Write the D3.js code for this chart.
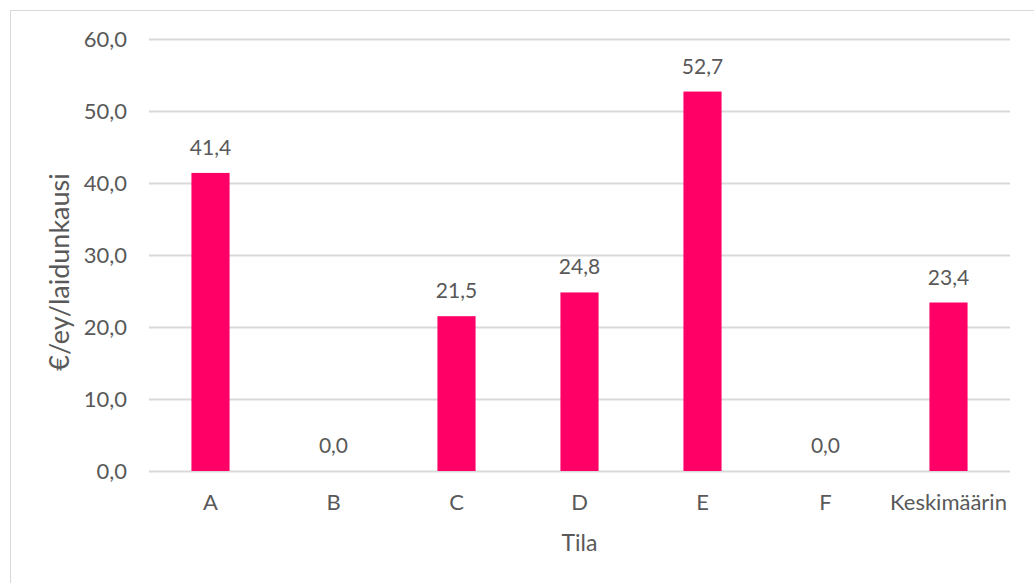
<!DOCTYPE html>
<html>
<head>
<meta charset="utf-8">
<script src="https://cdn.jsdelivr.net/npm/d3@7"></script>
<style>
  html, body { margin: 0; padding: 0; background: #fff; }
  svg { display: block; }
  text { font-family: Lato, "Open Sans", sans-serif; fill: #595959; }
</style>
</head>
<body>
<svg id="chart" width="1034" height="583"></svg>
<script>
// Farm categories and cost values (€/ey/laidunkausi)
const categories = ["A", "B", "C", "D", "E", "F", "Keskimäärin"];
const values = [41.4, 0.0, 21.5, 24.8, 52.7, 0.0, 23.4];
const yTicks = [0, 10, 20, 30, 40, 50, 60];
const yTitle = "€/ey/laidunkausi";
const xTitle = "Tila";

const fmt = v => v.toFixed(1).replace(".", ",");

const svg = d3.select("#chart");
const W = 1034, H = 583;
const plot = { left: 149, right: 1010, top: 39, bottom: 471 };

// Chart frame
svg.append("rect")
  .attr("x", 10.5).attr("y", 10.5)
  .attr("width", W + 10).attr("height", H + 10)
  .attr("fill", "#fff").attr("stroke", "#D9D9D9").attr("stroke-width", 1);

const x = d3.scaleBand()
  .domain(categories)
  .range([plot.left, plot.right])
  .paddingInner(0.69)
  .paddingOuter(0.345);

const y = d3.scaleLinear().domain([0, 60]).range([plot.bottom, plot.top]);

// Gridlines and y tick labels
const yAxis = d3.axisLeft(y)
  .tickValues(yTicks)
  .tickSize(-(plot.right - plot.left))
  .tickPadding(22)
  .tickFormat(fmt);

const gy = svg.append("g")
  .attr("transform", `translate(${plot.left},0)`)
  .call(yAxis);
gy.select(".domain").remove();
gy.selectAll(".tick line").attr("stroke", "#D9D9D9").attr("stroke-width", 2);
gy.selectAll(".tick text")
  .attr("font-size", 22)
  .attr("font-family", "Lato, sans-serif")
  .attr("fill", "#595959");

// Category labels
const xAxis = d3.axisBottom(x).tickSize(0).tickPadding(23);
const gx = svg.append("g")
  .attr("transform", `translate(0,${plot.bottom})`)
  .call(xAxis);
gx.select(".domain").remove();
gx.selectAll(".tick text")
  .attr("font-size", 22)
  .attr("font-family", "Lato, sans-serif")
  .attr("fill", "#595959");

// Bars
svg.append("g").selectAll("rect")
  .data(values)
  .join("rect")
  .attr("x", (d, i) => x(categories[i]))
  .attr("y", d => y(d))
  .attr("width", x.bandwidth())
  .attr("height", d => y(0) - y(d))
  .attr("fill", "#FF0066");

// Value labels
svg.append("g").selectAll("text")
  .data(values)
  .join("text")
  .attr("x", (d, i) => x(categories[i]) + x.bandwidth() / 2)
  .attr("y", d => y(d) - 18)
  .attr("text-anchor", "middle")
  .attr("font-size", 21)
  .attr("fill", "#404040")
  .text(fmt);

// Axis titles
svg.append("text")
  .attr("transform", `translate(69,272) rotate(-90)`)
  .attr("text-anchor", "middle")
  .attr("font-size", 27)
  .text(yTitle);

svg.append("text")
  .attr("x", (plot.left + plot.right) / 2)
  .attr("y", 551)
  .attr("text-anchor", "middle")
  .attr("font-size", 23)
  .text(xTitle);
</script>
</body>
</html>
